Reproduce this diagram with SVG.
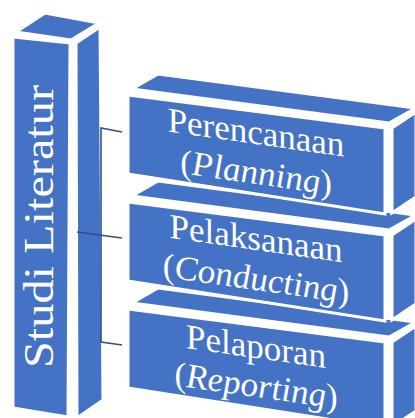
<svg xmlns="http://www.w3.org/2000/svg" width="415" height="418" viewBox="0 0 415 418">
<style>
.f{fill:#4472C4;stroke:#fff;stroke-width:3;stroke-linejoin:miter}
.t{font-family:"Liberation Serif","Times New Roman",serif;fill:#fff;font-size:35px;text-anchor:middle}
.i{font-style:italic}
.c{stroke:#2F528F;stroke-width:1.6;fill:none}
</style>
<rect width="415" height="418" fill="#fff"/>
<g id="box3">
<polygon class="f" points="132,303 158,288 416,322 389,337"/>
<polygon class="f" points="128,309 385,342 385,428 128,388"/>
<polygon class="f" points="392,342 416,326 416,411 392,427"/>
<g transform="translate(256,358) skewY(8.1)"><text class="t" x="0" y="0">Pelaporan</text></g>
<g transform="translate(256,397) skewY(8.1)"><text class="t" x="0" y="0">(<tspan class="i">Reporting</tspan>)</text></g>
</g>
<g id="box2">
<polygon class="f" points="132,196 158,181 416,215 389,230"/>
<polygon class="f" points="128,202 385,235 385,321 128,281"/>
<polygon class="f" points="392,235 416,219 416,304 392,320"/>
<g transform="translate(256,250) skewY(8.1)"><text class="t" x="0" y="0">Pelaksanaan</text></g>
<g transform="translate(256,290) skewY(8.1)"><text class="t" x="0" y="0">(<tspan class="i">Conducting</tspan>)</text></g>
</g>
<g id="box1">
<polygon class="f" points="132,89 158,74 416,108 389,123"/>
<polygon class="f" points="128,95 385,128 385,214 128,174"/>
<polygon class="f" points="392,128 416,112 416,197 392,213"/>
<g transform="translate(256,144) skewY(8.1)"><text class="t" x="0" y="0">Perencanaan</text></g>
<g transform="translate(256,184) skewY(8.1)"><text class="t" x="0" y="0">(<tspan class="i">Planning</tspan>)</text></g>
</g>
<g id="column">
<polygon class="f" points="16,32 45,13 99,23 71,40"/>
<polygon class="f" points="13,37 70,43 68,417 13,408"/>
<polygon class="f" points="76,43 100,27 103,400 77,418"/>
<text class="t" style="font-size:42px" transform="translate(53,226.5) rotate(-90)" textLength="283" lengthAdjust="spacingAndGlyphs">Studi Literatur</text>
</g>
<g id="connectors">
<polyline class="c" points="122,132 101,128 101,342 122,345"/>
<line class="c" x1="77" y1="232" x2="122" y2="238"/>
</g>
</svg>
